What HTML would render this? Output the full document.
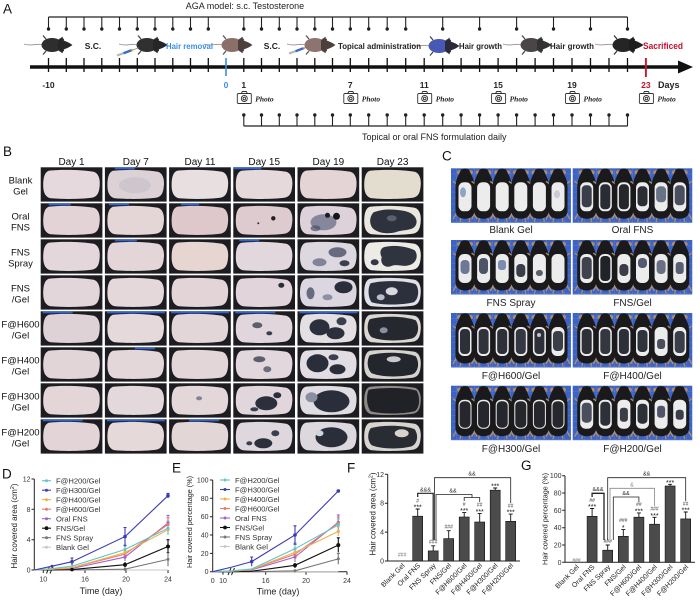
<!DOCTYPE html>
<html><head><meta charset="utf-8"><style>
html,body{margin:0;padding:0;background:#fff;width:700px;height:602px;overflow:hidden}
svg{display:block}
text{font-family:"Liberation Sans",Arial,sans-serif}
.sf{font-family:"Liberation Serif","Times New Roman",serif;font-weight:bold}
</style></head><body>
<svg width="700" height="602" viewBox="0 0 700 602" xmlns="http://www.w3.org/2000/svg">
<defs>
<path id="blob" d="M8 3.5 C20 2 42 2.5 53 4.5 C58 6 59.5 12 59 18 C58.5 25 57 29.5 51 30.5 C40 32 22 32 10 31 C4.5 30 2.5 25 2.5 18 C2.5 10 4 5 8 3.5 Z"/>
<pattern id="grid" width="6" height="6" patternUnits="userSpaceOnUse"><rect width="6" height="6" fill="#3d63c4"/><path d="M6 0V6M0 6H6" stroke="#7390d8" stroke-width=".5"/></pattern>
<g id="cm">
<path d="M-8 44 l-4 7 M-3.5 47 l-1.5 6.5 M3.5 47 l1.5 6.5 M8 44 l4 7 M-8 16 l-4 -3 M8 16 l4 -3" stroke="#b58e66" stroke-width="1.3" fill="none"/>
<ellipse cx="-5.5" cy="4" rx="2.5" ry="2" fill="#b58e66"/>
<ellipse cx="5.5" cy="4" rx="2.5" ry="2" fill="#b58e66"/>
<path d="M-4 1.5 C-2 0 2 0 4 1.5 L7.5 9 C9 12 9.5 16 9.5 20 L9.5 42 C9.5 48 5 50.5 0 50.5 C-5 50.5 -9.5 48 -9.5 42 L-9.5 20 C-9.5 16 -9 12 -7.5 9 Z" fill="#1a1a1c"/>
</g>
<g id="belly">
<rect x="-6.5" y="14" width="13" height="29" rx="5.5" fill="#ececec"/>
</g>
</defs>

<!-- ================= PANEL A ================= -->
<text x="3" y="13.5" font-size="13.5" fill="#111">A</text>
<text x="245" y="8.8" font-size="9" text-anchor="middle" fill="#222">AGA model: s.c. Testosterone</text>

<g stroke="#222" fill="none">
<path d="M48.5 17H627.5" stroke-width="1.3"/>
<path stroke-width="1.1" d="M48.5 17V29M66.3 17V29M84 17V29M101.8 17V29M119.5 17V29M137.3 17V29M155 17V29M172.8 17V29M190.5 17V29M208.3 17V29M243.8 17V29M261.5 17V29M279.3 17V29M297 17V29M314.8 17V29M332.5 17V29M350.3 17V29M368.7 17V29M387.2 17V29M405.7 17V29M442.7 17V29M479.6 17V29M516.6 17V29M553.5 17V29M590.5 17V29M627.5 17V29"/>
<path stroke-width="3.4" stroke-linecap="round" d="M48.5 29h0M66.3 29h0M84 29h0M101.8 29h0M119.5 29h0M137.3 29h0M155 29h0M172.8 29h0M190.5 29h0M208.3 29h0M243.8 29h0M261.5 29h0M279.3 29h0M297 29h0M314.8 29h0M332.5 29h0M350.3 29h0M368.7 29h0M387.2 29h0M405.7 29h0M442.7 29h0M479.6 29h0M516.6 29h0M553.5 29h0M590.5 29h0M627.5 29h0"/>
<!-- main axis -->
<path d="M30 67H681" stroke-width="3.6" stroke="#111"/>
<path stroke-width="1.3" stroke="#111" d="M48.5 58V72M66.3 58V72M84 58V72M101.8 58V72M119.5 58V72M137.3 58V72M155 58V72M172.8 58V72M190.5 58V72M208.3 58V72M243.8 58V72M261.5 58V72M279.3 58V72M297 58V72M314.8 58V72M332.5 58V72M350.3 58V72M368.7 58V72M387.2 58V72M405.7 58V72M424.2 58V72M442.7 58V72M461.1 58V72M479.6 58V72M498.1 58V72M516.6 58V72M535.1 58V72M553.5 58V72M572 58V72M590.5 58V72M609 58V72M627.5 58V72"/>
<path d="M226 58V76" stroke="#3b8ee8" stroke-width="1.6"/>
<path d="M645.9 58V77" stroke="#d3122f" stroke-width="1.9"/>
<!-- bottom bracket -->
<path d="M243.8 126H627.5" stroke-width="1.3"/>
<path stroke-width="1.1" d="M243.8 115V126M261.5 115V126M279.3 115V126M297 115V126M314.8 115V126M332.5 115V126M350.3 115V126M368.7 115V126M387.2 115V126M405.7 115V126M424.2 115V126M442.7 115V126M461.1 115V126M479.6 115V126M498.1 115V126M516.6 115V126M535.1 115V126M553.5 115V126M572 115V126M590.5 115V126M609 115V126M627.5 115V126"/>
<path stroke-width="3.4" stroke-linecap="round" d="M243.8 115h0M261.5 115h0M279.3 115h0M297 115h0M314.8 115h0M332.5 115h0M350.3 115h0M368.7 115h0M387.2 115h0M405.7 115h0M424.2 115h0M442.7 115h0M461.1 115h0M479.6 115h0M498.1 115h0M516.6 115h0M535.1 115h0M553.5 115h0M572 115h0M590.5 115h0M609 115h0M627.5 115h0"/>
</g>
<polygon points="678,60.5 693,67 678,73.5" fill="#111"/>

<!-- mice -->
<g transform="translate(55,45)">
<path d="M-12 0 C-17 -2.5 -23 2 -31 -1" stroke="#a08a85" stroke-width="0.9" fill="none"/>
<path d="M-9 -6 l-3 -3.5 M-9 6 l-3 3.5 M5 -4.5 l2.5 -3.5 M5 4.5 l2.5 3.5" stroke="#444" stroke-width="1.3"/>
<ellipse cx="-3" cy="0" rx="10.5" ry="7" fill="#2e2e2e"/>
<path d="M3 -5.5 C9 -5 14 -2.5 17.5 0 C14 2.5 9 5 3 5.5 Z" fill="#262626"/>
<ellipse cx="6.5" cy="-5.2" rx="2.5" ry="1.8" fill="#262626"/><ellipse cx="6.5" cy="5.2" rx="2.5" ry="1.8" fill="#262626"/>
</g>
<g transform="translate(150,45)">
<path d="M-12 0 C-17 -2.5 -23 2 -31 -1" stroke="#a08a85" stroke-width="0.9" fill="none"/>
<path d="M-9 -6 l-3 -3.5 M-9 6 l-3 3.5 M5 -4.5 l2.5 -3.5 M5 4.5 l2.5 3.5" stroke="#444" stroke-width="1.3"/>
<ellipse cx="-3" cy="0" rx="10.5" ry="7" fill="#303030"/>
<path d="M3 -5.5 C9 -5 14 -2.5 17.5 0 C14 2.5 9 5 3 5.5 Z" fill="#262626"/>
<ellipse cx="6.5" cy="-5.2" rx="2.5" ry="1.8" fill="#262626"/><ellipse cx="6.5" cy="5.2" rx="2.5" ry="1.8" fill="#262626"/>
</g>
<g transform="translate(235,45)">
<path d="M-12 0 C-17 -2.5 -23 2 -31 -1" stroke="#a08a85" stroke-width="0.9" fill="none"/>
<path d="M-9 -6 l-3 -3.5 M-9 6 l-3 3.5 M5 -4.5 l2.5 -3.5 M5 4.5 l2.5 3.5" stroke="#555" stroke-width="1.3"/>
<ellipse cx="-3" cy="0" rx="10.5" ry="7" fill="#8b706a"/>
<path d="M3 -5.5 C9 -5 14 -2.5 17.5 0 C14 2.5 9 5 3 5.5 Z" fill="#4d3f3c"/>
<ellipse cx="6.5" cy="-5.2" rx="2.5" ry="1.8" fill="#4d3f3c"/><ellipse cx="6.5" cy="5.2" rx="2.5" ry="1.8" fill="#4d3f3c"/>
</g>
<g transform="translate(318,45)">
<path d="M-12 0 C-17 -2.5 -23 2 -31 -1" stroke="#a08a85" stroke-width="0.9" fill="none"/>
<path d="M-9 -6 l-3 -3.5 M-9 6 l-3 3.5 M5 -4.5 l2.5 -3.5 M5 4.5 l2.5 3.5" stroke="#555" stroke-width="1.3"/>
<ellipse cx="-3" cy="0" rx="10.5" ry="7" fill="#8d7470"/>
<path d="M3 -5.5 C9 -5 14 -2.5 17.5 0 C14 2.5 9 5 3 5.5 Z" fill="#4d3f3c"/>
<ellipse cx="6.5" cy="-5.2" rx="2.5" ry="1.8" fill="#4d3f3c"/><ellipse cx="6.5" cy="5.2" rx="2.5" ry="1.8" fill="#4d3f3c"/>
</g>
<g transform="translate(442,46)">
<path d="M-12 0 C-17 -2.5 -23 2 -31 -1" stroke="#a08a85" stroke-width="0.9" fill="none"/>
<path d="M-9 -6 l-3 -3.5 M-9 6 l-3 3.5 M5 -4.5 l2.5 -3.5 M5 4.5 l2.5 3.5" stroke="#444" stroke-width="1.3"/>
<ellipse cx="-3" cy="0" rx="10.5" ry="7" fill="#4758b5"/>
<path d="M3 -5.5 C9 -5 14 -2.5 17.5 0 C14 2.5 9 5 3 5.5 Z" fill="#2a2a3a"/>
<ellipse cx="6.5" cy="-5.2" rx="2.5" ry="1.8" fill="#2a2a3a"/><ellipse cx="6.5" cy="5.2" rx="2.5" ry="1.8" fill="#2a2a3a"/>
</g>
<g transform="translate(534,45)">
<path d="M-12 0 C-17 -2.5 -23 2 -31 -1" stroke="#a08a85" stroke-width="0.9" fill="none"/>
<path d="M-9 -6 l-3 -3.5 M-9 6 l-3 3.5 M5 -4.5 l2.5 -3.5 M5 4.5 l2.5 3.5" stroke="#444" stroke-width="1.3"/>
<ellipse cx="-3" cy="0" rx="10.5" ry="7" fill="#4a4646"/>
<path d="M3 -5.5 C9 -5 14 -2.5 17.5 0 C14 2.5 9 5 3 5.5 Z" fill="#333"/>
<ellipse cx="6.5" cy="-5.2" rx="2.5" ry="1.8" fill="#333"/><ellipse cx="6.5" cy="5.2" rx="2.5" ry="1.8" fill="#333"/>
</g>
<g transform="translate(626,45)">
<path d="M-12 0 C-17 -2.5 -23 2 -31 -1" stroke="#a08a85" stroke-width="0.9" fill="none"/>
<path d="M-9 -6 l-3 -3.5 M-9 6 l-3 3.5 M5 -4.5 l2.5 -3.5 M5 4.5 l2.5 3.5" stroke="#333" stroke-width="1.3"/>
<ellipse cx="-3" cy="0" rx="10.5" ry="7" fill="#252525"/>
<path d="M3 -5.5 C9 -5 14 -2.5 17.5 0 C14 2.5 9 5 3 5.5 Z" fill="#1e1e1e"/>
<ellipse cx="6.5" cy="-5.2" rx="2.5" ry="1.8" fill="#1e1e1e"/><ellipse cx="6.5" cy="5.2" rx="2.5" ry="1.8" fill="#1e1e1e"/>
</g>
<!-- syringes -->
<g stroke-linecap="butt">
<line x1="117" y1="55.5" x2="123.5" y2="53.2" stroke="#b8b8b8" stroke-width="2.2"/>
<line x1="123.5" y1="53.2" x2="131.5" y2="50.3" stroke="#3a6ad0" stroke-width="2.4"/>
<line x1="131.5" y1="50.3" x2="133" y2="49.8" stroke="#e0b030" stroke-width="2.4"/>
<line x1="133" y1="49.8" x2="139" y2="47.7" stroke="#777" stroke-width="0.7"/>
<line x1="289" y1="53.5" x2="295.5" y2="51.2" stroke="#b8b8b8" stroke-width="2.2"/>
<line x1="295.5" y1="51.2" x2="303.5" y2="48.3" stroke="#3a6ad0" stroke-width="2.4"/>
<line x1="303.5" y1="48.3" x2="305" y2="47.8" stroke="#e0b030" stroke-width="2.4"/>
<line x1="305" y1="47.8" x2="311" y2="45.7" stroke="#777" stroke-width="0.7"/>
</g>
<!-- timeline texts -->
<g class="sf" font-size="8.5" fill="#222">
<text x="93" y="49" text-anchor="middle">S.C.</text>
<text x="166" y="49" fill="#3a8ee6" textLength="47" lengthAdjust="spacingAndGlyphs">Hair removal</text>
<text x="272" y="49" text-anchor="middle">S.C.</text>
<text x="338" y="49" textLength="83" lengthAdjust="spacingAndGlyphs">Topical administration</text>
<text x="459" y="49" textLength="43" lengthAdjust="spacingAndGlyphs">Hair growth</text>
<text x="550" y="49" textLength="44" lengthAdjust="spacingAndGlyphs">Hair growth</text>
<text x="643" y="49" fill="#c8102e" font-size="9" textLength="40" lengthAdjust="spacingAndGlyphs">Sacrificed</text>
<text x="48.5" y="88" text-anchor="middle">-10</text>
<text x="226" y="88" text-anchor="middle" fill="#3b8ee8">0</text>
<text x="243.8" y="88" text-anchor="middle">1</text>
<text x="350.3" y="88" text-anchor="middle">7</text>
<text x="424.2" y="88" text-anchor="middle">11</text>
<text x="498.1" y="88" text-anchor="middle">15</text>
<text x="572" y="88" text-anchor="middle">19</text>
<text x="645.9" y="88" text-anchor="middle" fill="#c8102e">23</text>
<text x="658" y="88" font-size="9">Days</text>
</g>
<!-- cameras -->
<g fill="none" stroke="#333" stroke-width="0.9">
<g transform="translate(237.3,91)"><rect x="0" y="2.5" width="14" height="10" rx="1"/><path d="M4 2.5 L5 0.5 H9 L10 2.5"/><circle cx="7" cy="7.5" r="3"/><circle cx="7" cy="7.5" r="1.3"/></g>
<g transform="translate(343.8,91)"><rect x="0" y="2.5" width="14" height="10" rx="1"/><path d="M4 2.5 L5 0.5 H9 L10 2.5"/><circle cx="7" cy="7.5" r="3"/><circle cx="7" cy="7.5" r="1.3"/></g>
<g transform="translate(417.7,91)"><rect x="0" y="2.5" width="14" height="10" rx="1"/><path d="M4 2.5 L5 0.5 H9 L10 2.5"/><circle cx="7" cy="7.5" r="3"/><circle cx="7" cy="7.5" r="1.3"/></g>
<g transform="translate(491.6,91)"><rect x="0" y="2.5" width="14" height="10" rx="1"/><path d="M4 2.5 L5 0.5 H9 L10 2.5"/><circle cx="7" cy="7.5" r="3"/><circle cx="7" cy="7.5" r="1.3"/></g>
<g transform="translate(565.5,91)"><rect x="0" y="2.5" width="14" height="10" rx="1"/><path d="M4 2.5 L5 0.5 H9 L10 2.5"/><circle cx="7" cy="7.5" r="3"/><circle cx="7" cy="7.5" r="1.3"/></g>
<g transform="translate(639.4,91)"><rect x="0" y="2.5" width="14" height="10" rx="1"/><path d="M4 2.5 L5 0.5 H9 L10 2.5"/><circle cx="7" cy="7.5" r="3"/><circle cx="7" cy="7.5" r="1.3"/></g>
</g>
<g font-family="Liberation Serif,serif" font-style="italic" font-weight="bold" font-size="7.5" fill="#222">
<text x="255.3" y="101.5" style="font-family:'Liberation Serif',serif">Photo</text>
<text x="361.8" y="101.5" style="font-family:'Liberation Serif',serif">Photo</text>
<text x="435.7" y="101.5" style="font-family:'Liberation Serif',serif">Photo</text>
<text x="509.6" y="101.5" style="font-family:'Liberation Serif',serif">Photo</text>
<text x="583.5" y="101.5" style="font-family:'Liberation Serif',serif">Photo</text>
<text x="657.4" y="101.5" style="font-family:'Liberation Serif',serif">Photo</text>
</g>
<text x="362" y="140" font-size="9" fill="#222">Topical or oral FNS formulation daily</text>

<!-- ================= PANEL B ================= -->
<text x="3" y="156" font-size="13.5" fill="#111">B</text>
<g font-size="10" text-anchor="middle" fill="#111">
<text x="71.5" y="165">Day 1</text><text x="135.8" y="165">Day 7</text><text x="200" y="165">Day 11</text>
<text x="264.2" y="165">Day 15</text><text x="328.4" y="165">Day 19</text><text x="392.6" y="165">Day 23</text>
</g>
<g font-size="9.5" text-anchor="middle" fill="#111">
<text x="20.5" y="183.3">Blank</text><text x="20.5" y="194.5">Gel</text>
<text x="20.5" y="219.3">Oral</text><text x="20.5" y="230.5">FNS</text>
<text x="20.5" y="255.3">FNS</text><text x="20.5" y="266.5">Spray</text>
<text x="20.5" y="291.3">FNS</text><text x="20.5" y="302.5">/Gel</text>
<text x="20.5" y="327.3">F@H600</text><text x="20.5" y="338.5">/Gel</text>
<text x="20.5" y="363.3">F@H400</text><text x="20.5" y="374.5">/Gel</text>
<text x="20.5" y="399.3">F@H300</text><text x="20.5" y="410.5">/Gel</text>
<text x="20.5" y="435.3">F@H200</text><text x="20.5" y="446.5">/Gel</text>
</g>

<!-- row 0 Blank Gel -->
<g transform="translate(40.7,167.3)"><rect width="61.7" height="34.3" fill="#1c1c21"/><use href="#blob" fill="#e6d9dd"/></g>
<g transform="translate(104.9,167.3)"><rect width="61.7" height="34.3" fill="#1c1c21"/><rect x="10" width="20" height="2" fill="#3262c8"/><use href="#blob" fill="#dcd2d6"/><ellipse cx="30" cy="18" rx="16" ry="8" fill="#8c8ea0" opacity=".18"/></g>
<g transform="translate(169.1,167.3)"><rect width="61.7" height="34.3" fill="#1c1c21"/><use href="#blob" fill="#e8dfe1"/></g>
<g transform="translate(233.3,167.3)"><rect width="61.7" height="34.3" fill="#1c1c21"/><rect x="0" width="28" height="2" fill="#3262c8"/><use href="#blob" fill="#e6d9dc"/></g>
<g transform="translate(297.5,167.3)"><rect width="61.7" height="34.3" fill="#1c1c21"/><use href="#blob" fill="#e4d4d6"/></g>
<g transform="translate(361.7,167.3)"><rect width="61.7" height="34.3" fill="#1c1c21"/><use href="#blob" fill="#e3ddcf"/></g>
<!-- row 1 Oral FNS -->
<g transform="translate(40.7,203.3)"><rect width="61.7" height="34.3" fill="#1c1c21"/><rect x="8" width="22" height="2" fill="#3262c8"/><use href="#blob" fill="#e3d3d6"/></g>
<g transform="translate(104.9,203.3)"><rect width="61.7" height="34.3" fill="#1c1c21"/><rect x="4" width="20" height="2" fill="#3262c8"/><use href="#blob" fill="#e4d5d7"/></g>
<g transform="translate(169.1,203.3)"><rect width="61.7" height="34.3" fill="#1c1c21"/><rect x="12" width="18" height="2" fill="#3262c8"/><use href="#blob" fill="#dfc8cb"/></g>
<g transform="translate(233.3,203.3)"><rect width="61.7" height="34.3" fill="#1c1c21"/><use href="#blob" fill="#ddcbcf"/><circle cx="40" cy="15" r="2.2" fill="#1e1f26"/><circle cx="25" cy="20" r="1" fill="#333"/></g>
<g transform="translate(297.5,203.3)"><rect width="61.7" height="34.3" fill="#1c1c21"/><use href="#blob" fill="#ddd2da"/><ellipse cx="26" cy="19" rx="13" ry="8" fill="#59607a" opacity=".65"/><circle cx="39" cy="13" r="3.5" fill="#15161b"/><circle cx="30" cy="12" r="2.5" fill="#1c1d24"/><ellipse cx="18" cy="25" rx="5" ry="3" fill="#4a5068" opacity=".7"/></g>
<g transform="translate(361.7,203.3)"><rect width="61.7" height="34.3" fill="#1c1c21"/><use href="#blob" fill="#eae7df"/><path d="M12 9 C22 5 34 6 44 8 C52 10 57 16 54 22 C51 28 41 26 34 29 C26 31 16 30 11 25 C7 20 8 13 12 9Z" fill="#2e323d"/><ellipse cx="30" cy="15" rx="5" ry="3" fill="#5a6070"/></g>
<!-- row 2 FNS Spray -->
<g transform="translate(40.7,239.3)"><rect width="61.7" height="34.3" fill="#1c1c21"/><use href="#blob" fill="#e3d7dc"/></g>
<g transform="translate(104.9,239.3)"><rect width="61.7" height="34.3" fill="#1c1c21"/><rect x="10" width="22" height="2" fill="#3262c8"/><use href="#blob" fill="#e3d5d8"/></g>
<g transform="translate(169.1,239.3)"><rect width="61.7" height="34.3" fill="#1c1c21"/><use href="#blob" fill="#e6d5d1"/></g>
<g transform="translate(233.3,239.3)"><rect width="61.7" height="34.3" fill="#1c1c21"/><rect x="6" width="20" height="2" fill="#3262c8"/><use href="#blob" fill="#e2d7dd"/></g>
<g transform="translate(297.5,239.3)"><rect width="61.7" height="34.3" fill="#1c1c21"/><use href="#blob" fill="#ddd7e0"/><ellipse cx="40" cy="13" rx="9" ry="5" fill="#4a5068" opacity=".8"/><ellipse cx="22" cy="23" rx="7" ry="4" fill="#5a6078" opacity=".7"/><ellipse cx="47" cy="24" rx="5" ry="3" fill="#3a3f50"/></g>
<g transform="translate(361.7,239.3)"><rect width="61.7" height="34.3" fill="#1c1c21"/><use href="#blob" fill="#ecebe5"/><path d="M22 8 C32 5 45 7 53 11 C57 16 55 24 47 26 C41 28 35 24 29 27 C23 29 18 24 20 18 C18 14 18 10 22 8Z" fill="#30343f"/><ellipse cx="13" cy="23" rx="4" ry="3" fill="#333846"/></g>
<!-- row 3 FNS/Gel -->
<g transform="translate(40.7,275.3)"><rect width="61.7" height="34.3" fill="#1c1c21"/><use href="#blob" fill="#e3d6da"/></g>
<g transform="translate(104.9,275.3)"><rect width="61.7" height="34.3" fill="#1c1c21"/><use href="#blob" fill="#e4d8da"/></g>
<g transform="translate(169.1,275.3)"><rect width="61.7" height="34.3" fill="#1c1c21"/><use href="#blob" fill="#e2d4d7"/></g>
<g transform="translate(233.3,275.3)"><rect width="61.7" height="34.3" fill="#1c1c21"/><use href="#blob" fill="#e1d5db"/><ellipse cx="48" cy="10" rx="3" ry="2.5" fill="#2a2d36"/></g>
<g transform="translate(297.5,275.3)"><rect width="61.7" height="34.3" fill="#1c1c21"/><use href="#blob" fill="#dbd6df"/><ellipse cx="46" cy="12" rx="9" ry="6" fill="#2a2e3a"/><ellipse cx="13" cy="18" rx="4" ry="6" fill="#4a5068" opacity=".8"/><ellipse cx="30" cy="22" rx="5" ry="3" fill="#5a6078" opacity=".6"/></g>
<g transform="translate(361.7,275.3)"><rect width="61.7" height="34.3" fill="#1c1c21"/><use href="#blob" fill="#e0e0e6"/><path d="M9 8 C20 5 44 5 54 9 C58 14 57 24 52 27 C40 30 20 30 10 27 C6 22 6 12 9 8Z" fill="#2c303c"/><ellipse cx="30" cy="16" rx="6" ry="4" fill="#d8d8de"/><ellipse cx="19" cy="22" rx="4" ry="3" fill="#b8bccc"/></g>
<!-- row 4 F@H600 -->
<g transform="translate(40.7,311.3)"><rect width="61.7" height="34.3" fill="#1c1c21"/><rect x="2" width="30" height="2" fill="#3262c8"/><use href="#blob" fill="#dfd2d6"/></g>
<g transform="translate(104.9,311.3)"><rect width="61.7" height="34.3" fill="#1c1c21"/><rect x="2" width="58" height="2" fill="#3262c8"/><use href="#blob" fill="#e5d9dc"/></g>
<g transform="translate(169.1,311.3)"><rect width="61.7" height="34.3" fill="#1c1c21"/><rect x="2" width="58" height="2" fill="#3262c8"/><use href="#blob" fill="#e3d6d9"/></g>
<g transform="translate(233.3,311.3)"><rect width="61.7" height="34.3" fill="#1c1c21"/><rect x="2" width="40" height="2" fill="#3262c8"/><use href="#blob" fill="#e0d6dc"/><ellipse cx="24" cy="14" rx="5" ry="3" fill="#3a4050" opacity=".8"/><ellipse cx="36" cy="22" rx="3" ry="2" fill="#3a4050"/></g>
<g transform="translate(297.5,311.3)"><rect width="61.7" height="34.3" fill="#1c1c21"/><rect x="2" width="58" height="2" fill="#3262c8"/><use href="#blob" fill="#e4dfe2"/><ellipse cx="22" cy="16" rx="10" ry="8" fill="#2c303c"/><ellipse cx="38" cy="22" rx="9" ry="6" fill="#2c303c"/><ellipse cx="44" cy="10" rx="5" ry="4" fill="#3a3f50"/></g>
<g transform="translate(361.7,311.3)"><rect width="61.7" height="34.3" fill="#1c1c21"/><use href="#blob" fill="#dcd7d2"/><path d="M8 8 C22 4 44 5 54 9 C58 15 57 24 51 27 C40 30 20 30 10 26 C5 21 5 13 8 8Z" fill="#25282f"/><ellipse cx="22" cy="19" rx="4" ry="3" fill="#8a90a0"/></g>
<!-- row 5 F@H400 -->
<g transform="translate(40.7,347.3)"><rect width="61.7" height="34.3" fill="#1c1c21"/><use href="#blob" fill="#e2d5d8"/></g>
<g transform="translate(104.9,347.3)"><rect width="61.7" height="34.3" fill="#1c1c21"/><rect x="30" width="20" height="2" fill="#3262c8"/><use href="#blob" fill="#e4d7d9"/></g>
<g transform="translate(169.1,347.3)"><rect width="61.7" height="34.3" fill="#1c1c21"/><use href="#blob" fill="#e3d6d8"/></g>
<g transform="translate(233.3,347.3)"><rect width="61.7" height="34.3" fill="#1c1c21"/><use href="#blob" fill="#e1d7dd"/><ellipse cx="26" cy="12" rx="6" ry="3" fill="#3a4050" opacity=".8"/><ellipse cx="34" cy="22" rx="4" ry="3" fill="#3a4050" opacity=".7"/></g>
<g transform="translate(297.5,347.3)"><rect width="61.7" height="34.3" fill="#1c1c21"/><use href="#blob" fill="#e2dde2"/><ellipse cx="20" cy="16" rx="11" ry="9" fill="#2a2e3a"/><ellipse cx="40" cy="22" rx="8" ry="5" fill="#2a2e3a"/><ellipse cx="36" cy="10" rx="5" ry="3" fill="#3a3f50"/></g>
<g transform="translate(361.7,347.3)"><rect width="61.7" height="34.3" fill="#1c1c21"/><use href="#blob" fill="#d6d2ce"/><path d="M8 8 C22 4 44 5 54 9 C58 15 57 24 51 27 C40 30 20 30 10 26 C5 21 5 13 8 8Z" fill="#23262d"/><ellipse cx="32" cy="12" rx="7" ry="3" fill="#c8c8cc"/></g>
<!-- row 6 F@H300 -->
<g transform="translate(40.7,383.3)"><rect width="61.7" height="34.3" fill="#1c1c21"/><use href="#blob" fill="#e3d5d8"/></g>
<g transform="translate(104.9,383.3)"><rect width="61.7" height="34.3" fill="#1c1c21"/><use href="#blob" fill="#e3d8dc"/></g>
<g transform="translate(169.1,383.3)"><rect width="61.7" height="34.3" fill="#1c1c21"/><use href="#blob" fill="#e4d7d9"/><ellipse cx="30" cy="15" rx="3" ry="2" fill="#5a6078" opacity=".7"/></g>
<g transform="translate(233.3,383.3)"><rect width="61.7" height="34.3" fill="#1c1c21"/><use href="#blob" fill="#e0d6dc"/><ellipse cx="33" cy="20" rx="11" ry="7" fill="#2c303c"/><ellipse cx="44" cy="12" rx="4" ry="3" fill="#2c303c"/><ellipse cx="21" cy="26" rx="4" ry="2" fill="#3a3f50"/></g>
<g transform="translate(297.5,383.3)"><rect width="61.7" height="34.3" fill="#1c1c21"/><use href="#blob" fill="#dfdce2"/><ellipse cx="34" cy="18" rx="18" ry="11" fill="#2a2e3a"/><ellipse cx="14" cy="14" rx="6" ry="5" fill="#8890a0"/></g>
<g transform="translate(361.7,383.3)"><rect width="61.7" height="34.3" fill="#1c1c21"/><use href="#blob" fill="#8f8a84"/><path d="M7 6.5 C20 4 44 4 55 7.5 C58.5 14 58.5 24 53 28 C40 31 20 31 9 28 C4.5 22 4.5 12 7 6.5Z" fill="#202228"/></g>
<!-- row 7 F@H200 -->
<g transform="translate(40.7,419.3)"><rect width="61.7" height="34.3" fill="#1c1c21"/><rect x="2" width="40" height="2" fill="#3262c8"/><use href="#blob" fill="#e2d4d7"/></g>
<g transform="translate(104.9,419.3)"><rect width="61.7" height="34.3" fill="#1c1c21"/><rect x="2" width="58" height="2" fill="#3262c8"/><use href="#blob" fill="#e5dad9"/></g>
<g transform="translate(169.1,419.3)"><rect width="61.7" height="34.3" fill="#1c1c21"/><rect x="20" width="30" height="2" fill="#3262c8"/><use href="#blob" fill="#e3d6d7"/></g>
<g transform="translate(233.3,419.3)"><rect width="61.7" height="34.3" fill="#1c1c21"/><use href="#blob" fill="#dfd7de"/><ellipse cx="30" cy="24" rx="9" ry="5" fill="#2c303c"/><ellipse cx="42" cy="14" rx="4" ry="3" fill="#3a3f50"/><ellipse cx="16" cy="24" rx="3" ry="2" fill="#3a3f50"/></g>
<g transform="translate(297.5,419.3)"><rect width="61.7" height="34.3" fill="#1c1c21"/><use href="#blob" fill="#dcd8de"/><ellipse cx="34" cy="18" rx="16" ry="10" fill="#2a2e3a"/><ellipse cx="22" cy="14" rx="4" ry="3" fill="#d0d4dc"/></g>
<g transform="translate(361.7,419.3)"><rect width="61.7" height="34.3" fill="#1c1c21"/><use href="#blob" fill="#d8d4cf"/><path d="M9 9 C22 5 44 6 53 10 C57 16 56 24 50 27 C40 30 20 30 10 26 C5 21 6 13 9 9Z" fill="#2a2c33"/><ellipse cx="40" cy="14" rx="7" ry="4" fill="#d8d4cc"/></g>

<!-- ================= PANEL C ================= -->
<text x="442" y="160.5" font-size="13.5" fill="#111">C</text>
<g font-size="10" text-anchor="middle" fill="#222">
<text x="511" y="233">Blank Gel</text><text x="632.5" y="233">Oral FNS</text>
<text x="511" y="306">FNS Spray</text><text x="632.5" y="306">FNS/Gel</text>
<text x="511" y="379">F@H600/Gel</text><text x="632.5" y="379">F@H400/Gel</text>
<text x="511" y="452">F@H300/Gel</text><text x="632.5" y="452">F@H200/Gel</text>
</g>
<!-- photo 1 Blank Gel -->
<g transform="translate(451,168.3)"><rect width="120" height="54.5" fill="url(#grid)"/>
<use href="#cm" x="14"/><use href="#cm" x="32.6"/><use href="#cm" x="51.2"/><use href="#cm" x="69.8"/><use href="#cm" x="88.4"/><use href="#cm" x="107"/>
<use href="#belly" x="14"/><use href="#belly" x="32.6"/><use href="#belly" x="51.2"/><use href="#belly" x="69.8"/><use href="#belly" x="88.4"/><use href="#belly" x="107"/>
<ellipse cx="12" cy="24" rx="3" ry="5" fill="#8fa3c6"/><ellipse cx="106" cy="26" rx="3" ry="4" fill="#c8ccd6"/>
</g>
<!-- photo 2 Oral FNS -->
<g transform="translate(572.7,168.3)"><rect width="119.6" height="54.5" fill="url(#grid)"/>
<use href="#cm" x="14"/><use href="#cm" x="32.6"/><use href="#cm" x="51.2"/><use href="#cm" x="69.8"/><use href="#cm" x="88.4"/><use href="#cm" x="107"/>
<use href="#belly" x="14"/><use href="#belly" x="32.6"/><use href="#belly" x="51.2"/><use href="#belly" x="69.8"/><use href="#belly" x="88.4"/><use href="#belly" x="107"/>
<rect x="9" y="17" width="10" height="22" rx="4" fill="#3a3e4a"/><rect x="27.6" y="16" width="10" height="25" rx="4" fill="#2a2c33"/><rect x="46.2" y="16" width="10" height="25" rx="4" fill="#25272d"/><rect x="64.8" y="18" width="10" height="20" rx="4" fill="#2c2e36"/><rect x="83.4" y="18" width="10" height="16" rx="4" fill="#6a7288"/><rect x="102" y="17" width="10" height="20" rx="4" fill="#4a4f60"/>
</g>
<!-- photo 3 FNS Spray -->
<g transform="translate(451,240)"><rect width="120" height="54.5" fill="url(#grid)"/>
<use href="#cm" x="14"/><use href="#cm" x="32.6"/><use href="#cm" x="51.2"/><use href="#cm" x="69.8"/><use href="#cm" x="88.4"/><use href="#cm" x="107"/>
<use href="#belly" x="14"/><use href="#belly" x="32.6"/><use href="#belly" x="51.2"/><use href="#belly" x="69.8"/><use href="#belly" x="88.4"/><use href="#belly" x="107"/>
<rect x="9.5" y="20" width="9" height="14" rx="4" fill="#6d7896"/><rect x="28" y="18" width="9" height="16" rx="4" fill="#4d5466"/><rect x="47" y="20" width="8" height="10" rx="3" fill="#7d8cb0"/><rect x="65.3" y="24" width="9" height="13" rx="4" fill="#3a3e48"/><rect x="84.9" y="30" width="7" height="6" rx="3" fill="#5a5e6a"/>
</g>
<!-- photo 4 FNS/Gel -->
<g transform="translate(572.7,240)"><rect width="119.6" height="54.5" fill="url(#grid)"/>
<use href="#cm" x="14"/><use href="#cm" x="32.6"/><use href="#cm" x="51.2"/><use href="#cm" x="69.8"/><use href="#cm" x="88.4"/><use href="#cm" x="107"/>
<use href="#belly" x="14"/><use href="#belly" x="32.6"/><use href="#belly" x="51.2"/><use href="#belly" x="69.8"/><use href="#belly" x="88.4"/><use href="#belly" x="107"/>
<rect x="9" y="17" width="10" height="22" rx="4" fill="#3f434e"/><rect x="27.6" y="16" width="10" height="25" rx="4" fill="#222329"/><rect x="46.7" y="24" width="9" height="12" rx="4" fill="#3a3d46"/><rect x="65.3" y="18" width="9" height="10" rx="4" fill="#545a70"/><rect x="83.9" y="20" width="9" height="14" rx="4" fill="#6a7082"/><rect x="103" y="22" width="8" height="12" rx="3" fill="#585e74"/>
</g>
<!-- photo 5 F@H600 -->
<g transform="translate(451,313)"><rect width="120" height="54.5" fill="url(#grid)"/>
<use href="#cm" x="14"/><use href="#cm" x="32.6"/><use href="#cm" x="51.2"/><use href="#cm" x="69.8"/><use href="#cm" x="88.4"/><use href="#cm" x="107"/>
<use href="#belly" x="14"/><use href="#belly" x="32.6"/><use href="#belly" x="51.2"/><use href="#belly" x="69.8"/><use href="#belly" x="88.4"/><use href="#belly" x="107"/>
<rect x="9" y="16" width="10" height="25" rx="4" fill="#2d3038"/><rect x="27.6" y="16" width="10" height="25" rx="4" fill="#30333b"/><rect x="46.2" y="16" width="10" height="25" rx="4" fill="#2d3038"/><rect x="64.8" y="16" width="10" height="25" rx="4" fill="#353842"/><rect x="83.4" y="16" width="10" height="25" rx="4" fill="#2d3038"/><rect x="102" y="18" width="10" height="20" rx="4" fill="#3a3e48"/>
<ellipse cx="88" cy="22" rx="2" ry="2" fill="#c0c4d0"/>
</g>
<!-- photo 6 F@H400 -->
<g transform="translate(572.7,313)"><rect width="119.6" height="54.5" fill="url(#grid)"/>
<use href="#cm" x="14"/><use href="#cm" x="32.6"/><use href="#cm" x="51.2"/><use href="#cm" x="69.8"/><use href="#cm" x="88.4"/><use href="#cm" x="107"/>
<use href="#belly" x="14"/><use href="#belly" x="32.6"/><use href="#belly" x="51.2"/><use href="#belly" x="69.8"/><use href="#belly" x="88.4"/><use href="#belly" x="107"/>
<rect x="9" y="16" width="10" height="25" rx="4" fill="#2d3038"/><rect x="27.6" y="16" width="10" height="25" rx="4" fill="#34373f"/><rect x="46.2" y="16" width="10" height="25" rx="4" fill="#2d3038"/><rect x="64.8" y="17" width="10" height="22" rx="4" fill="#30333b"/><rect x="84.4" y="26" width="8" height="10" rx="3" fill="#4a4e5a"/><rect x="102" y="18" width="10" height="22" rx="4" fill="#3a3e48"/>
</g>
<!-- photo 7 F@H300 -->
<g transform="translate(451,385.7)"><rect width="120" height="54.5" fill="url(#grid)"/>
<use href="#cm" x="14"/><use href="#cm" x="32.6"/><use href="#cm" x="51.2"/><use href="#cm" x="69.8"/><use href="#cm" x="88.4"/><use href="#cm" x="107"/>
<use href="#belly" x="14"/><use href="#belly" x="32.6"/><use href="#belly" x="51.2"/><use href="#belly" x="69.8"/><use href="#belly" x="88.4"/><use href="#belly" x="107"/>
<rect x="8.5" y="15.5" width="11" height="26.5" rx="4.5" fill="#25272d"/><rect x="27.1" y="15.5" width="11" height="26.5" rx="4.5" fill="#25272d"/><rect x="45.7" y="15.5" width="11" height="26.5" rx="4.5" fill="#25272d"/><rect x="64.3" y="15.5" width="11" height="26.5" rx="4.5" fill="#25272d"/><rect x="82.9" y="15.5" width="11" height="26.5" rx="4.5" fill="#25272d"/><rect x="101.5" y="15.5" width="11" height="26.5" rx="4.5" fill="#25272d"/>
</g>
<!-- photo 8 F@H200 -->
<g transform="translate(572.7,385.7)"><rect width="119.6" height="54.5" fill="url(#grid)"/>
<use href="#cm" x="14"/><use href="#cm" x="32.6"/><use href="#cm" x="51.2"/><use href="#cm" x="69.8"/><use href="#cm" x="88.4"/><use href="#cm" x="107"/>
<use href="#belly" x="14"/><use href="#belly" x="32.6"/><use href="#belly" x="51.2"/><use href="#belly" x="69.8"/><use href="#belly" x="88.4"/><use href="#belly" x="107"/>
<rect x="9" y="17" width="10" height="20" rx="4" fill="#4a4f5e"/><rect x="27.6" y="16" width="10" height="24" rx="4" fill="#2e3038"/><rect x="47.2" y="22" width="8" height="14" rx="3" fill="#3a3e48"/><rect x="64.8" y="18" width="10" height="20" rx="4" fill="#2e3038"/><rect x="84.4" y="20" width="8" height="12" rx="3" fill="#50556a"/><rect x="103" y="24" width="8" height="10" rx="3" fill="#3a3e48"/>
</g>

<!-- ================= PANEL D ================= -->
<text x="2" y="478.5" font-size="13.5" fill="#111">D</text>
<g fill="none" stroke="#222" stroke-width="1">
<path d="M34.3 479V570H48M52 570H168"/>
<path d="M31.5 479H34.3M31.5 509.3H34.3M31.5 539.7H34.3M31.5 570H34.3"/>
<path d="M43.3 570v3M85 570v3M126 570v3M168 570v3"/>
<path d="M46.5 573.5L49.5 566.5M50 573.5L53 566.5"/>
</g>
<g font-size="7" fill="#333" text-anchor="end">
<text x="30.5" y="481.5">12</text><text x="30.5" y="511.8">8</text><text x="30.5" y="542.2">4</text><text x="30.5" y="572.5">0</text>
</g>
<g font-size="7" fill="#333" text-anchor="middle">
<text x="43.3" y="581.5">10</text><text x="85" y="581.5">16</text><text x="126" y="581.5">20</text><text x="168" y="581.5">24</text>
</g>
<text transform="translate(17,526) rotate(-90)" text-anchor="middle" font-size="8" fill="#222" textLength="85" lengthAdjust="spacingAndGlyphs">Hair covered area (cm<tspan font-size="5.5" dy="-3">2</tspan><tspan dy="3">)</tspan></text>
<text x="101" y="594" font-size="9" text-anchor="middle" fill="#222">Time (day)</text>
<g fill="none" stroke-width="1.1">
<polyline points="34.3,570 52,570 72,570 125,570 168,570" stroke="#c9c9c9"/>
<polyline points="34.3,570 52,570 72,570 125,569.2 168,559.4" stroke="#777"/>
<polyline points="34.3,570 52,570 72,569.6 125,564.7 168,546.5" stroke="#111"/>
<polyline points="34.3,570 52,569.2 72,568.5 125,557.1 168,523" stroke="#a463c7"/>
<polyline points="34.3,570 52,569.2 72,567.7 125,554.1 168,524.5" stroke="#e57a6e"/>
<polyline points="34.3,570 52,569.2 72,567.7 125,552.6 168,529.8" stroke="#f0b04c"/>
<polyline points="34.3,570 52,568.5 72,566.2 125,549.5 168,528.3" stroke="#64c4c8"/>
<polyline points="34.3,570 52,566.2 72,561.7 125,536.6 168,495.7" stroke="#3b3bb3"/>
<path stroke="#777" d="M168 552.6V566.2M166.5 552.6H169.5"/>
<path stroke="#111" d="M168 539.7V553.3M166.5 539.7H169.5M125 562V567.4"/>
<path stroke="#a463c7" d="M168 515.4V530.6M166.5 515.4H169.5M125 553V561"/>
<path stroke="#e57a6e" d="M168 518V531M166.5 518H169.5M125 550V558"/>
<path stroke="#f0b04c" d="M168 524V535M166.5 524H169.5"/>
<path stroke="#64c4c8" d="M168 521V535M166.5 521H169.5M125 545V554M123.5 545H126.5"/>
<path stroke="#3b3bb3" d="M72 558V565.5M70.5 558H73.5M125 527.5V545.7M123.5 527.5H126.5M123.5 545.7H126.5M168 493.4V498M166.5 493.4H169.5"/>
</g>
<g>
<circle cx="168" cy="559.4" r="1.5" fill="#777"/><circle cx="125" cy="569.2" r="1.5" fill="#777"/>
<circle cx="168" cy="546.5" r="2" fill="#111"/><circle cx="125" cy="564.7" r="2" fill="#111"/><circle cx="72" cy="569.6" r="1.8" fill="#111"/>
<circle cx="168" cy="523" r="1.6" fill="#a463c7"/><circle cx="125" cy="557.1" r="1.6" fill="#a463c7"/>
<circle cx="168" cy="524.5" r="1.6" fill="#e57a6e"/><circle cx="125" cy="554.1" r="1.6" fill="#e57a6e"/>
<circle cx="168" cy="529.8" r="1.6" fill="#f0b04c"/><circle cx="125" cy="552.6" r="1.6" fill="#f0b04c"/>
<circle cx="168" cy="528.3" r="1.6" fill="#64c4c8"/><circle cx="125" cy="549.5" r="1.6" fill="#64c4c8"/>
<circle cx="168" cy="495.7" r="1.8" fill="#3b3bb3"/><circle cx="125" cy="536.6" r="1.8" fill="#3b3bb3"/><circle cx="72" cy="561.7" r="1.8" fill="#3b3bb3"/><circle cx="52" cy="566.2" r="1.5" fill="#3b3bb3"/>
</g>
<!-- legend D -->
<g stroke-width="1.1">
<line x1="42" y1="480.7" x2="51" y2="480.7" stroke="#64c4c8"/><circle cx="46.5" cy="480.7" r="1.5" fill="#64c4c8"/>
<line x1="42" y1="490.2" x2="51" y2="490.2" stroke="#3b3bb3"/><circle cx="46.5" cy="490.2" r="1.5" fill="#3b3bb3"/>
<line x1="42" y1="499.7" x2="51" y2="499.7" stroke="#f0b04c"/><circle cx="46.5" cy="499.7" r="1.5" fill="#f0b04c"/>
<line x1="42" y1="509.2" x2="51" y2="509.2" stroke="#e57a6e"/><circle cx="46.5" cy="509.2" r="1.5" fill="#e57a6e"/>
<line x1="42" y1="518.7" x2="51" y2="518.7" stroke="#a463c7"/><circle cx="46.5" cy="518.7" r="1.5" fill="#a463c7"/>
<line x1="42" y1="528.2" x2="51" y2="528.2" stroke="#111"/><circle cx="46.5" cy="528.2" r="1.9" fill="#111"/>
<line x1="42" y1="537.7" x2="51" y2="537.7" stroke="#777"/><circle cx="46.5" cy="537.7" r="1.5" fill="#777"/>
<line x1="42" y1="547.2" x2="51" y2="547.2" stroke="#c9c9c9"/><circle cx="46.5" cy="547.2" r="1.5" fill="#c9c9c9"/>
</g>
<g font-size="7.6" fill="#333">
<text x="56" y="483.5">F@H200/Gel</text><text x="56" y="493">F@H300/Gel</text><text x="56" y="502.5">F@H400/Gel</text><text x="56" y="512">F@H600/Gel</text>
<text x="56" y="521.5">Oral FNS</text><text x="56" y="531">FNS/Gel</text><text x="56" y="540.5">FNS Spray</text><text x="56" y="550">Blank Gel</text>
</g>

<!-- ================= PANEL E ================= -->
<text x="172" y="472.5" font-size="13.5" fill="#111">E</text>
<g fill="none" stroke="#222" stroke-width="1">
<path d="M212.7 480V571.7H229.5M233 571.7H347"/>
<path d="M209.9 480H212.7M209.9 498.3H212.7M209.9 516.7H212.7M209.9 535H212.7M209.9 553.4H212.7M209.9 571.7H212.7"/>
<path d="M223 571.7v3M265.7 571.7v3M306 571.7v3M347 571.7v3"/>
<path d="M228 575L231 568M231.5 575L234.5 568"/>
</g>
<g font-size="7" fill="#333" text-anchor="end">
<text x="208.5" y="482.5">100</text><text x="208.5" y="500.8">80</text><text x="208.5" y="519.2">60</text><text x="208.5" y="537.5">40</text><text x="208.5" y="555.9">20</text><text x="208.5" y="574.2">0</text>
</g>
<g font-size="7" fill="#333" text-anchor="middle">
<text x="212.7" y="583">0</text><text x="223" y="583">10</text><text x="265.7" y="583">16</text><text x="306" y="583">20</text><text x="347" y="583">24</text>
</g>
<text transform="translate(192,522) rotate(-90)" text-anchor="middle" font-size="7.6" fill="#222" textLength="92" lengthAdjust="spacingAndGlyphs">Hair covered percentage (%)</text>
<text x="278" y="594.5" font-size="9" text-anchor="middle" fill="#222">Time (day)</text>
<g fill="none" stroke-width="1.1">
<polyline points="212.7,571.7 231.7,571.7 251.7,571.7 295,571.7 338.3,571.7" stroke="#c9c9c9"/>
<polyline points="212.7,571.7 231.7,571.7 251.7,571.7 295,570.8 338.3,558.9" stroke="#777"/>
<polyline points="212.7,571.7 231.7,571.7 251.7,571.2 295,565.3 338.3,545.1" stroke="#111"/>
<polyline points="212.7,571.7 231.7,571.2 251.7,569.9 295,557 338.3,522.2" stroke="#a463c7"/>
<polyline points="212.7,571.7 231.7,571.2 251.7,569.4 295,554.3 338.3,523.1" stroke="#e57a6e"/>
<polyline points="212.7,571.7 231.7,571.2 251.7,569.4 295,552.4 338.3,531.4" stroke="#f0b04c"/>
<polyline points="212.7,571.7 231.7,570.8 251.7,568.9 295,548.8 338.3,524.9" stroke="#64c4c8"/>
<polyline points="212.7,571.7 231.7,567.1 251.7,561.6 295,535 338.3,491" stroke="#3b3bb3"/>
<path stroke="#777" d="M338.3 553.4V564.4M336.8 553.4H339.8"/>
<path stroke="#111" d="M338.3 537.8V552.4M336.8 537.8H339.8M295 563V568"/>
<path stroke="#a463c7" d="M338.3 514.9V529.5M336.8 514.9H339.8M295 552V562"/>
<path stroke="#e57a6e" d="M338.3 517V529M336.8 517H339.8M295 549V559"/>
<path stroke="#f0b04c" d="M338.3 527V536M336.8 527H339.8"/>
<path stroke="#64c4c8" d="M338.3 519V531M336.8 519H339.8M295 543V554M293.5 543H296.5"/>
<path stroke="#3b3bb3" d="M251.7 557V566.2M250.2 557H253.2M295 525.8V544.2M293.5 525.8H296.5M293.5 544.2H296.5M338.3 490V492M336.8 490H339.8"/>
</g>
<g>
<circle cx="338.3" cy="558.9" r="1.5" fill="#777"/><circle cx="295" cy="570.8" r="1.5" fill="#777"/>
<circle cx="338.3" cy="545.1" r="2" fill="#111"/><circle cx="295" cy="565.3" r="2" fill="#111"/>
<circle cx="338.3" cy="522.2" r="1.6" fill="#a463c7"/><circle cx="295" cy="557" r="1.6" fill="#a463c7"/>
<circle cx="338.3" cy="523.1" r="1.6" fill="#e57a6e"/><circle cx="295" cy="554.3" r="1.6" fill="#e57a6e"/>
<circle cx="338.3" cy="531.4" r="1.6" fill="#f0b04c"/><circle cx="295" cy="552.4" r="1.6" fill="#f0b04c"/>
<circle cx="338.3" cy="524.9" r="1.6" fill="#64c4c8"/><circle cx="295" cy="548.8" r="1.6" fill="#64c4c8"/>
<circle cx="338.3" cy="491" r="1.8" fill="#3b3bb3"/><circle cx="295" cy="535" r="1.8" fill="#3b3bb3"/><circle cx="251.7" cy="561.6" r="1.8" fill="#3b3bb3"/>
</g>
<!-- legend E -->
<g stroke-width="1.1">
<line x1="220" y1="480" x2="230" y2="480" stroke="#64c4c8"/><circle cx="225" cy="480" r="1.5" fill="#64c4c8"/>
<line x1="220" y1="489.5" x2="230" y2="489.5" stroke="#3b3bb3"/><circle cx="225" cy="489.5" r="1.5" fill="#3b3bb3"/>
<line x1="220" y1="499" x2="230" y2="499" stroke="#f0b04c"/><circle cx="225" cy="499" r="1.5" fill="#f0b04c"/>
<line x1="220" y1="508.5" x2="230" y2="508.5" stroke="#e57a6e"/><circle cx="225" cy="508.5" r="1.5" fill="#e57a6e"/>
<line x1="220" y1="518" x2="230" y2="518" stroke="#a463c7"/><circle cx="225" cy="518" r="1.5" fill="#a463c7"/>
<line x1="220" y1="527.5" x2="230" y2="527.5" stroke="#111"/><circle cx="225" cy="527.5" r="1.9" fill="#111"/>
<line x1="220" y1="537" x2="230" y2="537" stroke="#777"/><circle cx="225" cy="537" r="1.5" fill="#777"/>
<line x1="220" y1="546.5" x2="230" y2="546.5" stroke="#c9c9c9"/><circle cx="225" cy="546.5" r="1.5" fill="#c9c9c9"/>
</g>
<g font-size="7.6" fill="#333">
<text x="235" y="482.8">F@H200/Gel</text><text x="235" y="492.3">F@H300/Gel</text><text x="235" y="501.8">F@H400/Gel</text><text x="235" y="511.3">F@H600/Gel</text>
<text x="235" y="520.8">Oral FNS</text><text x="235" y="530.3">FNS/Gel</text><text x="235" y="539.8">FNS Spray</text><text x="235" y="549.3">Blank Gel</text>
</g>

<!-- ================= PANEL F ================= -->
<text x="347" y="472.5" font-size="13.5" fill="#111">F</text>
<g fill="none" stroke="#222" stroke-width="1">
<path d="M387.7 474.3V561H520"/>
<path d="M384.9 474.3H387.7M384.9 503.2H387.7M384.9 532.1H387.7M384.9 561H387.7"/>
</g>
<g font-size="7" fill="#333" text-anchor="end">
<text x="384" y="476.8">12</text><text x="384" y="505.7">8</text><text x="384" y="534.6">4</text><text x="384" y="563.5">0</text>
</g>
<text transform="translate(375.5,514) rotate(-90)" text-anchor="middle" font-size="8" fill="#222" textLength="83" lengthAdjust="spacingAndGlyphs">Hair covered area (cm<tspan font-size="5.5" dy="-3">2</tspan><tspan dy="3">)</tspan></text>
<g fill="#4b4b4b" stroke="#111" stroke-width=".6">
<rect x="412.7" y="516.2" width="10" height="44.8"/>
<rect x="428.2" y="550.9" width="10" height="10.1"/>
<rect x="443.7" y="538.6" width="10" height="22.4"/>
<rect x="459.2" y="517" width="10" height="44"/>
<rect x="474.7" y="522" width="10" height="39"/>
<rect x="490.2" y="490.2" width="10" height="70.8"/>
<rect x="505.7" y="521.3" width="10" height="39.7"/>
</g>
<path fill="none" stroke="#111" stroke-width=".9" d="M417.7 516.2V509M415.7 509H419.7M433.2 550.9V545.8M431.2 545.8H435.2M448.7 538.6V530.7M446.7 530.7H450.7M464.2 517V512.6M462.2 512.6H466.2M479.7 522V513.4M477.7 513.4H481.7M495.2 490.2V488M493.2 488H497.2M510.7 521.3V514.1M508.7 514.1H512.7"/>
<g font-size="7" fill="#111" text-anchor="middle">
<text x="417.7" y="509.5">***</text><text x="464.2" y="513.1">***</text><text x="479.7" y="513.9">***</text><text x="495.2" y="488.5">***</text><text x="510.7" y="514.6">***</text>
</g>
<g font-size="5" fill="#333" text-anchor="middle">
<text x="402.2" y="556.5" fill="#666">###</text>
<text x="417.7" y="502.3">#</text>
<text x="433.2" y="543.6">###</text>
<text x="448.7" y="528.5">###</text>
<text x="464.2" y="505.9">#</text>
<text x="479.7" y="506.7">##</text>
<text x="510.7" y="507.4">##</text>
</g>
<g fill="none" stroke="#222" stroke-width=".8">
<path d="M417.7 497V493.3H433.2V540" stroke-width="1.2"/>
<path d="M436 540V494.5H472V497.5M464.2 501V497.5H479.7V502"/>
<path d="M434.5 540V477.7H510.7V503"/>
</g>
<g font-size="5.5" fill="#222" text-anchor="middle">
<text x="425.5" y="491.3">&amp;&amp;&amp;</text>
<text x="453" y="492.5">&amp;&amp;</text>
<text x="472" y="475.7">&amp;&amp;</text>
</g>
<g font-size="7" fill="#222" text-anchor="end">
<text transform="translate(405.2,566) rotate(-45)">Blank Gel</text>
<text transform="translate(420.7,566) rotate(-45)">Oral FNS</text>
<text transform="translate(436.2,566) rotate(-45)">FNS Spray</text>
<text transform="translate(451.7,566) rotate(-45)">FNS/Gel</text>
<text transform="translate(467.2,566) rotate(-45)">F@H600/Gel</text>
<text transform="translate(482.7,566) rotate(-45)">F@H400/Gel</text>
<text transform="translate(498.2,566) rotate(-45)">F@H300/Gel</text>
<text transform="translate(513.7,566) rotate(-45)">F@H200/Gel</text>
</g>

<!-- ================= PANEL G ================= -->
<text x="521" y="470" font-size="13.5" fill="#111">G</text>
<g fill="none" stroke="#222" stroke-width="1">
<path d="M565 475.7V562.3H695"/>
<path d="M562.2 475.7H565M562.2 493H565M562.2 510.3H565M562.2 527.7H565M562.2 545H565M562.2 562.3H565"/>
</g>
<g font-size="7" fill="#333" text-anchor="end">
<text x="561.5" y="478.2">100</text><text x="561.5" y="495.5">80</text><text x="561.5" y="512.8">60</text><text x="561.5" y="530.2">40</text><text x="561.5" y="547.5">20</text><text x="561.5" y="564.8">0</text>
</g>
<text transform="translate(547.5,519) rotate(-90)" text-anchor="middle" font-size="7.6" fill="#222" textLength="92" lengthAdjust="spacingAndGlyphs">Hair covered percentage (%)</text>
<g fill="#4b4b4b" stroke="#111" stroke-width=".6">
<rect x="587.1" y="516.3" width="10" height="46"/>
<rect x="602.7" y="550.2" width="10" height="12.1"/>
<rect x="618.3" y="536.3" width="10" height="26"/>
<rect x="633.9" y="517.2" width="10" height="45.1"/>
<rect x="649.5" y="524.2" width="10" height="38.1"/>
<rect x="665.1" y="486" width="10" height="76.3"/>
<rect x="680.7" y="518.9" width="10" height="43.4"/>
</g>
<path fill="none" stroke="#111" stroke-width=".9" d="M592.1 516.3V508.5M590.1 508.5H594.1M607.7 550.2V545M605.7 545H609.7M623.3 536.3V529.6M621.3 529.6H625.3M638.9 517.2V512.9M636.9 512.9H640.9M654.5 524.2V517.3M652.5 517.3H656.5M670.1 486V484.3M668.1 484.3H672.1M685.7 518.9V512M683.7 512H687.7"/>
<g font-size="7" fill="#111" text-anchor="middle">
<text x="592.1" y="509">***</text><text x="623.3" y="530.1">*</text><text x="638.9" y="513.4">***</text><text x="654.5" y="517.8">***</text><text x="670.1" y="484.8">***</text><text x="685.7" y="512.5">***</text>
</g>
<g font-size="5" fill="#333" text-anchor="middle">
<text x="576.5" y="562" fill="#666">###</text>
<text x="592.1" y="501.8">##</text>
<text x="607.7" y="543">###</text>
<text x="623.3" y="521.8">###</text>
<text x="638.9" y="506.2">##</text>
<text x="654.5" y="510.6">###</text>
<text x="685.7" y="505.3">##</text>
</g>
<g fill="none" stroke="#222" stroke-width=".8">
<path d="M592.1 497V493.3H604V540" stroke-width="1.3"/>
<path d="M613.3 540V497H638.9V502"/>
<path d="M610 540V488.3H654.5V506" stroke="#888"/>
<path d="M607.7 540V477.7H685.7V501"/>
</g>
<g font-size="5.5" fill="#222" text-anchor="middle">
<text x="598" y="491">&amp;&amp;&amp;</text>
<text x="626" y="495">&amp;&amp;</text>
<text x="632" y="486.5" fill="#888">&amp;</text>
<text x="646.7" y="475.7">&amp;&amp;</text>
</g>
<g font-size="7" fill="#222" text-anchor="end">
<text transform="translate(579.5,567.5) rotate(-45)">Blank Gel</text>
<text transform="translate(595.1,567.5) rotate(-45)">Oral FNS</text>
<text transform="translate(610.7,567.5) rotate(-45)">FNS Spray</text>
<text transform="translate(626.3,567.5) rotate(-45)">FNS/Gel</text>
<text transform="translate(641.9,567.5) rotate(-45)">F@H600/Gel</text>
<text transform="translate(657.5,567.5) rotate(-45)">F@H400/Gel</text>
<text transform="translate(673.1,567.5) rotate(-45)">F@H300/Gel</text>
<text transform="translate(688.7,567.5) rotate(-45)">F@H200/Gel</text>
</g>
</svg>
</body></html>
